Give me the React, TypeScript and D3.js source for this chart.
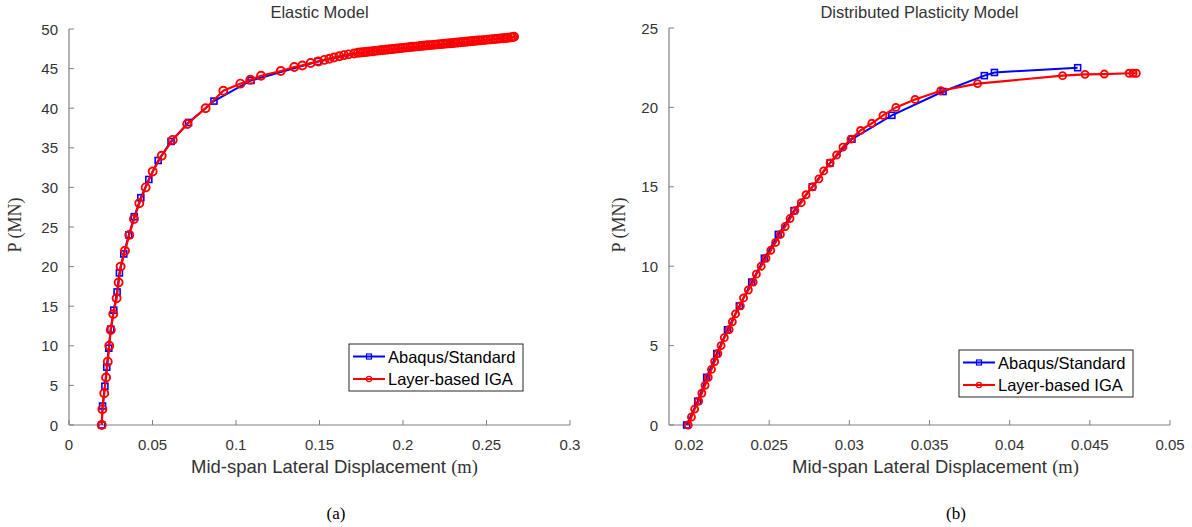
import React from 'react';
import * as d3 from 'd3';

// ---------- Data ----------
// (a) Elastic model
const elasticAbaqusX = [0.0196, 0.0201, 0.0215, 0.0226, 0.0238, 0.0250, 0.0268, 0.0288, 0.0302, 0.0328, 0.0358, 0.0391, 0.0430, 0.0478, 0.0534, 0.0611, 0.0716, 0.0868, 0.1090, 0.1490, 0.1800, 0.2280, 0.2620];
const elasticAbaqusP = [0, 2.4, 4.9, 7.3, 9.7, 12.1, 14.5, 16.8, 19.2, 21.6, 24.0, 26.3, 28.7, 31.0, 33.4, 35.8, 38.2, 40.9, 43.5, 45.9, 47.2, 48.1, 48.9];

const elasticIgaX = [
  0.0196, 0.0200, 0.0211, 0.0222, 0.0232, 0.0241, 0.0250, 0.0265, 0.0285, 0.0297,
  0.0309, 0.0335, 0.0361, 0.0389, 0.0421, 0.0459, 0.0501, 0.0555, 0.0621, 0.0708,
  0.0818, 0.0924, 0.1026, 0.1086, 0.1150, 0.1268, 0.1349, 0.1397, 0.1447, 0.1493,
  0.1529, 0.1559, 0.1587, 0.1619, 0.1647, 0.1675, 0.1707,
  0.1730, 0.1745, 0.1760, 0.1775, 0.1790, 0.1805, 0.1820, 0.1835, 0.1850, 0.1865,
  0.1880, 0.1895, 0.1910, 0.1925, 0.1940, 0.1955, 0.1970, 0.1985, 0.2000, 0.2015,
  0.2030, 0.2045, 0.2060, 0.2075, 0.2090, 0.2105, 0.2120, 0.2135, 0.2150, 0.2165,
  0.2180, 0.2195, 0.2210, 0.2225, 0.2240, 0.2255, 0.2270, 0.2285, 0.2300, 0.2315,
  0.2330, 0.2345, 0.2360, 0.2375, 0.2390, 0.2405, 0.2420, 0.2435, 0.2450, 0.2465,
  0.2480, 0.2495, 0.2510, 0.2525, 0.2540, 0.2555, 0.2570, 0.2585, 0.2600, 0.2615,
  0.2630, 0.2645, 0.2655, 0.2665,
];
const elasticIgaP = [
  0, 2, 4, 6, 8, 10, 12, 14, 16, 18,
  20, 22, 24, 26, 28, 30, 32, 34, 36, 38,
  40, 42.2, 43.1, 43.6, 44.1, 44.7, 45.2, 45.4, 45.7, 45.9,
  46.1, 46.25, 46.4, 46.55, 46.7, 46.8, 46.9,
  47.0, 47.03, 47.06, 47.10, 47.13, 47.17, 47.2, 47.24, 47.27, 47.31,
  47.34, 47.38, 47.41, 47.45, 47.48, 47.52, 47.55, 47.58, 47.62, 47.65,
  47.68, 47.72, 47.75, 47.78, 47.81, 47.85, 47.88, 47.91, 47.94, 47.97,
  48.0, 48.03, 48.06, 48.09, 48.12, 48.15, 48.18, 48.21, 48.24, 48.27,
  48.30, 48.33, 48.36, 48.39, 48.42, 48.45, 48.48, 48.51, 48.54, 48.57,
  48.60, 48.63, 48.66, 48.69, 48.72, 48.75, 48.78, 48.81, 48.84, 48.87,
  48.90, 48.94, 48.98, 49.03,
];

// (b) Distributed plasticity model
const plasticAbaqusX = [0.01985, 0.02054, 0.0211, 0.02173, 0.0224, 0.02314, 0.02391, 0.0247, 0.02557, 0.02655, 0.02769, 0.0288, 0.03016, 0.03265, 0.03584, 0.03842, 0.03905, 0.04424];
const plasticAbaqusP = [0, 1.5, 3, 4.5, 6, 7.5, 9, 10.5, 12, 13.5, 15, 16.5, 18, 19.5, 21, 22, 22.2, 22.5];

const plasticIgaX = [
  0.01995, 0.02015, 0.02035, 0.0206, 0.0208, 0.0210, 0.0212, 0.0214, 0.0216, 0.0218,
  0.0220, 0.0222, 0.0225, 0.0227, 0.0229, 0.0232, 0.0234, 0.0237, 0.0240, 0.0242,
  0.0245, 0.0248, 0.0251, 0.0254, 0.0257, 0.0260, 0.0263, 0.0266, 0.0270, 0.0273,
  0.0277, 0.0281, 0.0284, 0.0288, 0.0292, 0.0296, 0.0301, 0.0307, 0.0314, 0.0321,
  0.0329, 0.0341, 0.0357, 0.0380, 0.0433, 0.0447, 0.0459, 0.04745, 0.0477, 0.0479,
];
const plasticIgaP = [
  0, 0.5, 1.0, 1.5, 2.0, 2.5, 3.0, 3.5, 4.0, 4.5,
  5.0, 5.5, 6.0, 6.5, 7.0, 7.5, 8.0, 8.5, 9.0, 9.5,
  10.0, 10.5, 11.0, 11.5, 12.0, 12.5, 13.0, 13.5, 14.0, 14.5,
  15.0, 15.5, 16.0, 16.5, 17.0, 17.5, 18.0, 18.55, 19.0, 19.5,
  20.0, 20.5, 21.05, 21.5, 22.0, 22.08, 22.1, 22.15, 22.15, 22.15,
];

const elasticXTicks = [0, 0.05, 0.1, 0.15, 0.2, 0.25, 0.3];
const elasticXLabels = ['0', '0.05', '0.1', '0.15', '0.2', '0.25', '0.3'];
const elasticYTicks = [0, 5, 10, 15, 20, 25, 30, 35, 40, 45, 50];
const plasticXTicks = [0.02, 0.025, 0.03, 0.035, 0.04, 0.045, 0.05];
const plasticXLabels = ['0.02', '0.025', '0.03', '0.035', '0.04', '0.045', '0.05'];
const plasticYTicks = [0, 5, 10, 15, 20, 25];

const seriesNames = ['Abaqus/Standard', 'Layer-based IGA'];
const titles = ['Elastic Model', 'Distributed Plasticity Model'];
const captions = ['(a)', '(b)'];

const BLUE = '#0000ff';
const RED = '#ff0000';
const AXIS = '#808080';
const TEXT = '#333333';
const SANS = '"Liberation Sans", Arial, Helvetica, sans-serif';
const SERIF = '"Liberation Serif", "Times New Roman", serif';

type PanelProps = {
  x0: number; x1: number; y0: number; y1: number;
  xDomain: [number, number]; yDomain: [number, number];
  xTicks: number[]; xLabels: string[]; yTicks: number[];
  abX: number[]; abP: number[]; igX: number[]; igP: number[];
  title: string; caption: string;
  legendX: number; legendY: number;
  labelStart: number; captionX: number; yLabelX: number;
  circleR: number; squareS: number;
};

function Panel(p: PanelProps) {
  const xs = d3.scaleLinear().domain(p.xDomain).range([p.x0, p.x1]);
  const ys = d3.scaleLinear().domain(p.yDomain).range([p.y0, p.y1]);
  const line = d3.line<[number, number]>().x(d => xs(d[0])).y(d => ys(d[1]));
  const ab: [number, number][] = p.abX.map((v, i) => [v, p.abP[i]]);
  const ig: [number, number][] = p.igX.map((v, i) => [v, p.igP[i]]);
  const cx = (p.x0 + p.x1) / 2;
  const tl = 5;
  const lw = 174, lh = 47;
  return (
    <g>
      <text x={cx} y={18} textAnchor="middle" fontFamily={SANS} fontSize={16.5} fill={TEXT}>{p.title}</text>
      <line x1={p.x0} y1={p.y0} x2={p.x1} y2={p.y0} stroke={AXIS} strokeWidth={1.2} />
      <line x1={p.x0} y1={p.y0} x2={p.x0} y2={p.y1} stroke={AXIS} strokeWidth={1.2} />
      {p.xTicks.map((t, i) => (
        <g key={'xt' + i}>
          <line x1={xs(t)} x2={xs(t)} y1={p.y0} y2={p.y0 - tl} stroke={AXIS} strokeWidth={1} />
          <text x={xs(t)} y={450} textAnchor="middle" fontFamily={SANS} fontSize={15} fill={TEXT}>{p.xLabels[i]}</text>
        </g>
      ))}
      {p.yTicks.map((t, i) => (
        <g key={'yt' + i}>
          <line x1={p.x0} x2={p.x0 + tl} y1={ys(t)} y2={ys(t)} stroke={AXIS} strokeWidth={1} />
          <text x={p.x0 - 11} y={ys(t) + 5.5} textAnchor="end" fontFamily={SANS} fontSize={15} fill={TEXT}>{t}</text>
        </g>
      ))}
      <text x={p.labelStart} y={473} fontFamily={SANS} fontSize={18.5} fill={TEXT}>
        Mid-span Lateral Displacement <tspan fontFamily={SERIF}>(m)</tspan>
      </text>
      <text transform={`translate(${p.yLabelX},225) rotate(-90)`} textAnchor="middle" fontFamily={SERIF} fontSize={18} fill={TEXT}>P (MN)</text>
      <text x={p.captionX} y={519} textAnchor="middle" fontFamily={SERIF} fontSize={17} fill="#000">{p.caption}</text>
      <path d={line(ab) || ''} fill="none" stroke={BLUE} strokeWidth={2} />
      {ab.map((d, i) => (
        <rect key={'ab' + i} x={xs(d[0]) - p.squareS / 2} y={ys(d[1]) - p.squareS / 2} width={p.squareS} height={p.squareS} fill="none" stroke={BLUE} strokeWidth={1.6} />
      ))}
      <path d={line(ig) || ''} fill="none" stroke={RED} strokeWidth={2.2} />
      {ig.map((d, i) => (
        <circle key={'ig' + i} cx={xs(d[0])} cy={ys(d[1])} r={p.circleR} fill="none" stroke={RED} strokeWidth={1.9} />
      ))}
      <g>
        <rect x={p.legendX} y={p.legendY} width={lw} height={lh} fill="#fff" stroke="#262626" strokeWidth={1} />
        {[0, 1].map(k => {
          const yy = p.legendY + 12.5 + k * 22.5;
          const col = k === 0 ? BLUE : RED;
          const mx = p.legendX + 20;
          return (
            <g key={'lg' + k}>
              <line x1={p.legendX + 4} x2={p.legendX + 36} y1={yy} y2={yy} stroke={col} strokeWidth={2} />
              {k === 0
                ? <rect x={mx - 2.5} y={yy - 2.5} width={5} height={5} fill="none" stroke={col} strokeWidth={1.2} />
                : <circle cx={mx} cy={yy} r={2.6} fill="none" stroke={col} strokeWidth={1.2} />}
              <text x={p.legendX + 39} y={yy + 6} fontFamily={SANS} fontSize={16.5} fill="#000">{seriesNames[k]}</text>
            </g>
          );
        })}
      </g>
    </g>
  );
}

export default function App() {
  return (
    <svg width={1192} height={527} style={{ position: 'absolute', left: 0, top: 0, background: '#fff' }}>
      <rect x={0} y={0} width={1192} height={527} fill="#fff" />
      <Panel
        x0={69} x1={570} y0={425} y1={29}
        xDomain={[0, 0.3]} yDomain={[0, 50]}
        xTicks={elasticXTicks} xLabels={elasticXLabels} yTicks={elasticYTicks}
        abX={elasticAbaqusX} abP={elasticAbaqusP} igX={elasticIgaX} igP={elasticIgaP}
        title={titles[0]} caption={captions[0]}
        legendX={349} legendY={344}
        labelStart={191} captionX={336} yLabelX={21}
        circleR={4} squareS={6}
      />
      <Panel
        x0={669} x1={1170} y0={425} y1={28}
        xDomain={[0.01875, 0.05]} yDomain={[0, 25]}
        xTicks={plasticXTicks} xLabels={plasticXLabels} yTicks={plasticYTicks}
        abX={plasticAbaqusX} abP={plasticAbaqusP} igX={plasticIgaX} igP={plasticIgaP}
        title={titles[1]} caption={captions[1]}
        legendX={959} legendY={350}
        labelStart={792} captionX={956} yLabelX={625}
        circleR={3.5} squareS={6}
      />
    </svg>
  );
}
